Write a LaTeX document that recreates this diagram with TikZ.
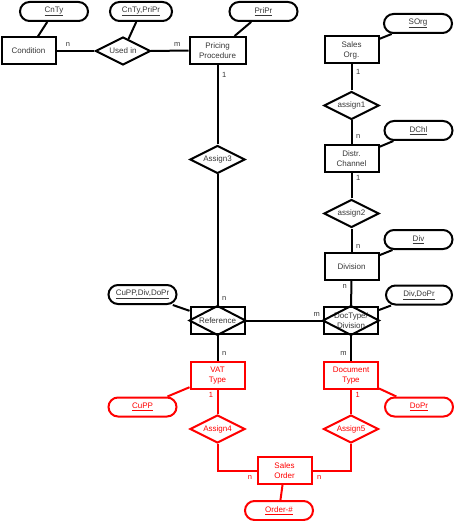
\documentclass[tikz,border=0pt]{standalone}
\usepackage{fontspec}
\setmainfont{Liberation Sans}
\usetikzlibrary{shapes.geometric}
\definecolor{ink}{RGB}{0,0,0}
\definecolor{txt}{RGB}{55,55,55}
\definecolor{hot}{RGB}{255,0,0}
\tikzset{
  ent/.style={draw=ink,line width=2pt,minimum width=54pt,minimum height=27pt,
    inner sep=1pt,align=center,text=txt},
  rel/.style={draw=ink,diamond,aspect=2,line width=2pt,minimum width=55pt,
    minimum height=28pt,inner sep=0pt,text=txt},
  attr/.style={draw=ink,rounded corners=9.5pt,line width=2pt,minimum width=68pt,
    minimum height=19pt,inner sep=1pt,text=txt},
  con/.style={draw=ink,line width=2pt},
  tag/.style={font=\fontsize{7.5}{8}\selectfont,inner sep=3.5pt,text=txt},
  hot/.style={draw=hot,text=hot},
  hottag/.style={tag,text=hot},
}
\newcommand{\keyattr}[1]{\underline{#1}}

\begin{document}
\begin{tikzpicture}[x=1pt,y=-1pt,every node/.style={font=\fontsize{8}{10}\selectfont}]
  \useasboundingbox (0,0) rectangle (454,521);
  % top row
  \node[ent] (cond) at (28.5,51) {Condition};
  \node[rel] (usedin) at (123,51) {Used in};
  \node[ent,minimum width=56pt] (pricing) at (217.5,50.5) {Pricing\\Procedure};
  \node[attr] (cnty) at (54,11.5) {\keyattr{CnTy}};
  \node[attr,minimum width=62pt] (cntypripr) at (141,11.5) {\keyattr{CnTy,PriPr}};
  \node[attr] (pripr) at (263.5,11.5) {\keyattr{PriPr}};
  % right column
  \node[ent] (salesorg) at (351.5,50) {Sales\\Org.};
  \node[rel] (assign1) at (351.5,105.5) {assign1};
  \node[ent] (distr) at (351.5,158.5) {Distr.\\Channel};
  \node[rel] (assign2) at (351.5,213.5) {assign2};
  \node[ent] (division) at (351.5,266.5) {Division};
  \node[attr] (sorg) at (418,23.5) {\keyattr{SOrg}};
  \node[attr] (dchl) at (418.5,130.5) {\keyattr{DChl}};
  \node[attr] (div) at (418.5,239.5) {\keyattr{Div}};
  % left column
  \node[rel] (assign3) at (217.5,159.5) {Assign3};
  \node[ent] (reference) at (217.5,320.5) {Reference};
  \node[ent] (doctypediv) at (351,320.5) {DocType/\\Division};
  \draw[con] (reference.north) -- (reference.east) -- (reference.south) -- (reference.west) -- cycle;
  \draw[con] (doctypediv.north) -- (doctypediv.east) -- (doctypediv.south) -- (doctypediv.west) -- cycle;
  \node[attr] (cuppdivdopr) at (142.5,294.5) {\keyattr{CuPP,Div,DoPr}};
  \node[attr,minimum width=66pt] (divdopr) at (419,295) {\keyattr{Div,DoPr}};
  % sales order part (red)
  \node[ent,hot] (vat) at (217.5,375.5) {VAT\\Type};
  \node[ent,hot] (doctype) at (351,375.5) {Document\\Type};
  \node[rel,hot] (assign4) at (217.5,429) {Assign4};
  \node[rel,hot] (assign5) at (351,429) {Assign5};
  \node[ent,hot] (salesord) at (284.5,470.5) {Sales\\Order};
  \node[attr,hot] (cupp) at (142.5,407) {\keyattr{CuPP}};
  \node[attr,hot] (dopr) at (419,407) {\keyattr{DoPr}};
  \node[attr,hot] (order) at (279,510.5) {\keyattr{Order-\#}};

  % attributes
  \draw[con] (cnty) -- (cond);
  \draw[con] (cntypripr) -- (usedin);
  \draw[con] (pripr) -- (pricing);
  \draw[con] (sorg) -- (salesorg);
  \draw[con] (dchl) -- (distr);
  \draw[con] (div) -- (division);
  \draw[con] (cuppdivdopr) -- (reference);
  \draw[con] (divdopr) -- (doctypediv);
  \draw[con,hot] (cupp) -- (vat);
  \draw[con,hot] (dopr) -- (doctype);
  \draw[con,hot] (order) -- (salesord);

  % relationships
  \draw[con] (cond) -- node[tag,pos=.3,above]{n} (usedin);
  \draw[con] (usedin) -- node[tag,pos=.7,above]{m} (pricing);
  \draw[con] (pricing) -- node[tag,pos=.13,right]{1} (assign3);
  \draw[con] (assign3) -- node[tag,pos=.94,right]{n} (reference);
  \draw[con] (salesorg) -- node[tag,pos=.3,right]{1} (assign1);
  \draw[con] (assign1) -- node[tag,pos=.7,right]{n} (distr);
  \draw[con] (distr) -- node[tag,pos=.2,right]{1} (assign2);
  \draw[con] (assign2) -- node[tag,pos=.78,right]{n} (division);
  \draw[con] (division) -- node[tag,pos=.2,left]{n} (doctypediv);
  \draw[con] (reference) -- node[tag,pos=.92,above]{m} (doctypediv);
  \draw[con] (reference) -- node[tag,pos=.7,right]{n} (vat);
  \draw[con] (doctypediv) -- node[tag,pos=.7,left]{m} (doctype);
  \draw[con,hot] (vat) -- node[hottag,pos=.22,left]{1} (assign4);
  \draw[con,hot] (doctype) -- node[hottag,pos=.22,right]{1} (assign5);
  \draw[con,hot] (assign4.south) |- node[hottag,pos=1,below left]{n} (salesord.west);
  \draw[con,hot] (assign5.south) |- node[hottag,pos=1,below right]{n} (salesord.east);
\end{tikzpicture}
\end{document}
